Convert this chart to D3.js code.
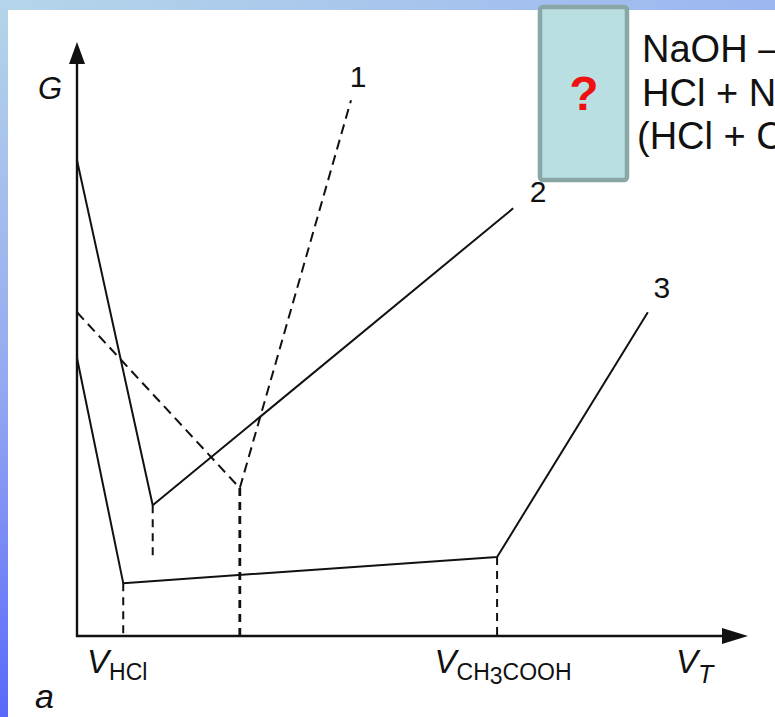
<!DOCTYPE html>
<html>
<head>
<meta charset="utf-8">
<script src="https://cdn.jsdelivr.net/npm/d3@7/dist/d3.min.js"></script>
<style>
  html, body { margin: 0; padding: 0; background: #fff; }
  svg { display: block; }
</style>
</head>
<body>
<svg id="chart" width="775" height="717"></svg>
<script>
// Conductometric titration curves: conductance G versus titrant volume V_T.
// Each curve is a list of [volume, conductance] break points (arbitrary units).
const curve1 = [[0, 54.5], [24.3, 24.9], [40.9, 90.2]];             // dashed
const curve2 = [[0, 80.1], [11.3, 22.0], [65.1, 72.0]];             // solid
const curve3 = [[0, 46.8], [6.9, 8.9], [62.7, 13.3], [85.2, 54.5]]; // solid
const curveNames = ["1", "2", "3"];

// Equivalence-point drop lines: [volume, conductance at top, conductance at bottom]
const dropLines = [[11.3, 22.0, 13.3], [6.9, 8.9, 0], [24.3, 24.9, 0], [62.7, 13.3, 0]];

// Axis labels placed along the volume axis
const xLabelAt = [6.9, 62.7, 92.2];
const xLabelMain = ["V", "V", "V"];
const xLabelSub = ["HCl", "CH|3|COOH", "T"];

// Reactions listed beside the chart
const reactionLines = ["NaOH – HCl", "HCl + NaOH", "(HCl + CH₃COOH) + NaOH"];

const svg = d3.select("#chart");
const W = 775, H = 717;

// Slide background: gradient frame on top and left, white page
const defs = svg.append("defs");
const gTop = defs.append("linearGradient").attr("id", "topBand").attr("x1", 0).attr("x2", 1).attr("y1", 0).attr("y2", 0);
gTop.append("stop").attr("offset", "0%").attr("stop-color", "#b4d5e9");
gTop.append("stop").attr("offset", "100%").attr("stop-color", "#9cb6f0");
const gLeft = defs.append("linearGradient").attr("id", "leftBand").attr("x1", 0).attr("x2", 0).attr("y1", 0).attr("y2", 1);
gLeft.append("stop").attr("offset", "0%").attr("stop-color", "#b4d5e9");
gLeft.append("stop").attr("offset", "55%").attr("stop-color", "#93a8f1");
gLeft.append("stop").attr("offset", "100%").attr("stop-color", "#5a68fa");

svg.append("rect").attr("width", W).attr("height", H).attr("fill", "#ffffff");
svg.append("rect").attr("x", 0).attr("y", 0).attr("width", W).attr("height", 10).attr("fill", "url(#topBand)");
svg.append("rect").attr("x", 0).attr("y", 0).attr("width", 8).attr("height", H).attr("fill", "url(#leftBand)");

// Scales
const x0 = 77, x1 = 747, yBase = 636, yTop = 42;
const x = d3.scaleLinear().domain([0, 100]).range([x0, x1]);
const y = d3.scaleLinear().domain([0, 100]).range([yBase, yTop]);

const line = d3.line().x(d => x(d[0])).y(d => y(d[1]));
const ink = "#111";
const font = "Liberation Sans, Arial, sans-serif";

// Axes with arrowheads
const axes = svg.append("g");
axes.append("line").attr("x1", x(0)).attr("x2", x(0)).attr("y1", y(0) + 1).attr("y2", y(100) + 18)
  .attr("stroke", ink).attr("stroke-width", 2.4);
axes.append("line").attr("x1", x(0) - 1).attr("x2", x(100) - 22).attr("y1", y(0)).attr("y2", y(0))
  .attr("stroke", ink).attr("stroke-width", 2.6);
axes.append("path")
  .attr("d", `M${x(0)},${y(100)} L${x(0) - 8},${y(100) + 22} L${x(0) + 8},${y(100) + 22} Z`)
  .attr("fill", ink);
axes.append("path")
  .attr("d", `M${x(100) + 1},${y(0)} L${x(100) - 25},${y(0) - 8} L${x(100) - 25},${y(0) + 8} Z`)
  .attr("fill", ink);

// Drop lines to the equivalence volumes
svg.append("g").selectAll("line").data(dropLines).join("line")
  .attr("x1", d => x(d[0])).attr("x2", d => x(d[0]))
  .attr("y1", d => y(d[1])).attr("y2", d => y(d[2]))
  .attr("stroke", ink)
  .attr("stroke-width", (d, i) => i === 2 ? 2.8 : 2)
  .attr("stroke-dasharray", "8,6");

// Titration curves
const curves = [curve1, curve2, curve3];
svg.append("g").selectAll("path").data(curves).join("path")
  .attr("d", line)
  .attr("fill", "none")
  .attr("stroke", ink)
  .attr("stroke-width", 2)
  .attr("stroke-linejoin", "round")
  .attr("stroke-dasharray", (d, i) => i === 0 ? "10,6" : null);

// Curve numbers near the upper ends
const nameOffset = [[7, -13], [25, -6], [14, -14]];
svg.append("g").selectAll("text").data(curves).join("text")
  .attr("x", (d, i) => x(d[d.length - 1][0]) + nameOffset[i][0])
  .attr("y", (d, i) => y(d[d.length - 1][1]) + nameOffset[i][1])
  .attr("text-anchor", "middle")
  .attr("font-family", font)
  .attr("font-size", 30)
  .attr("fill", ink)
  .text((d, i) => curveNames[i]);

// Axis titles
svg.append("text").attr("x", 50).attr("y", 99).attr("text-anchor", "middle")
  .attr("font-family", font).attr("font-size", 31).attr("font-style", "italic")
  .attr("fill", ink).text("G");

const xl = svg.append("g").selectAll("text").data(xLabelAt).join("text")
  .attr("x", (d, i) => x(d) + (i === 0 ? -6 : i === 1 ? 6 : 0))
  .attr("y", 673)
  .attr("text-anchor", "middle")
  .attr("font-family", font)
  .attr("fill", ink);
xl.each(function (d, i) {
  const t = d3.select(this);
  t.append("tspan").attr("font-size", 33).attr("font-style", "italic").text(xLabelMain[i]);
  const parts = xLabelSub[i].split("|");
  parts.forEach((p, k) => {
    const lowered = k % 2 === 1;
    const ts = t.append("tspan")
      .attr("font-size", i === 2 ? 25 : 23)
      .attr("font-style", i === 2 ? "italic" : "normal")
      .attr("dy", k === 0 ? 7 : (lowered ? 4 : -4))
      .text(p);
    if (i === 2) ts.attr("dy", 10);
  });
});

svg.append("text").attr("x", 35).attr("y", 708)
  .attr("font-family", font).attr("font-size", 34).attr("font-style", "italic")
  .attr("fill", ink).text("a");

// Question box and reaction list
svg.append("rect").attr("x", 540).attr("y", 7).attr("width", 87).attr("height", 173)
  .attr("rx", 3).attr("fill", "#b9dfe2").attr("stroke", "#8aa7a8").attr("stroke-width", 4.5);
svg.append("text").attr("x", 584).attr("y", 110).attr("text-anchor", "middle")
  .attr("font-family", font).attr("font-size", 48).attr("font-weight", "bold")
  .attr("fill", "#ee1111").text("?");

svg.append("g").selectAll("text").data(reactionLines).join("text")
  .attr("x", (d, i) => i === 2 ? 637 : 642)
  .attr("y", (d, i) => 62 + i * 43.5)
  .attr("font-family", font).attr("font-size", 38).attr("fill", ink)
  .text(d => d);
</script>
</body>
</html>
